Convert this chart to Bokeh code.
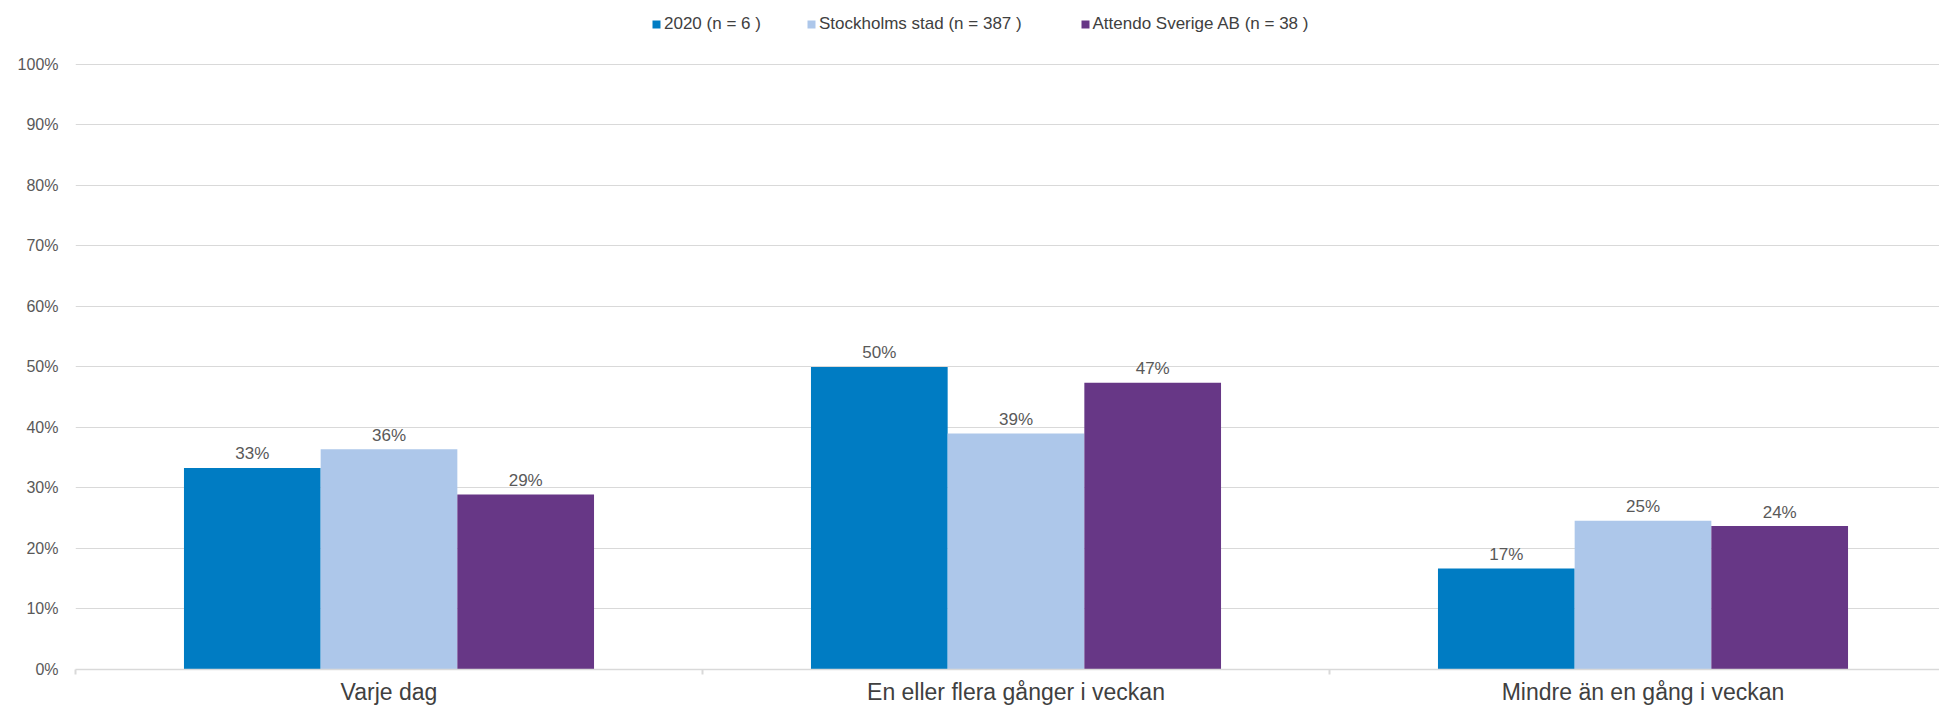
from bokeh.plotting import figure
from bokeh.models import (ColumnDataSource, FixedTicker, Legend, LegendItem, Range1d)
from bokeh.transform import dodge
from bokeh.core.properties import value
from bokeh.embed import file_html
from bokeh.resources import INLINE

categories = ["Varje dag", "En eller flera gånger i veckan", "Mindre än en gång i veckan"]
series_names = ["2020 (n = 6 )", "Stockholms stad (n = 387 )", "Attendo Sverige AB (n = 38 )"]
vals_2020 = [33.3, 50.0, 16.7]
vals_stockholm = [36.4, 39.0, 24.6]
vals_attendo = [28.9, 47.4, 23.7]
colors = ["#007CC3", "#ADC7EA", "#673786"]
y_ticks = [0, 10, 20, 30, 40, 50, 60, 70, 80, 90, 100]

FONT = "Liberation Sans"

# frame spans the full height above the x axis; the y range is extended above 100 %
# so that the 100 % line sits where the reference has it and the legend fits inside.
p = figure(width=1939, height=707, output_backend="svg", toolbar_location=None,
           x_range=Range1d(0, 1864 / 627), y_range=Range1d(0, 110.55),
           min_border_left=75, min_border_right=0, min_border_top=0, min_border_bottom=37)
p.outline_line_color = None
p.background_fill_color = "white"
p.border_fill_color = "white"

xc = [i + 0.5 for i in range(len(categories))]
series = [vals_2020, vals_stockholm, vals_attendo]
offsets = [-0.218, 0.0, 0.218]

renderers = []
for vals, col, off in zip(series, colors, offsets):
    src = ColumnDataSource(dict(x=xc, y=vals, lab=[f"{v:.0f}%" for v in vals]))
    r = p.vbar(x=dodge("x", off, range=p.x_range), top="y", width=0.218, bottom=0,
               source=src, fill_color=col, line_color=None)
    renderers.append(r)
    p.text(x=dodge("x", off, range=p.x_range), y="y", text="lab", source=src,
           text_align="center", text_baseline="alphabetic", y_offset=-14,
           text_font=value(FONT), text_font_size="17px", text_color="#595959")

# x axis
xa = p.xaxis[0]
xa.ticker = FixedTicker(ticks=xc, minor_ticks=[0, 1, 2, 3])
xa.major_label_overrides = {x: c for x, c in zip(xc, categories)}
xa.major_tick_line_color = None
xa.major_tick_out = 0
xa.major_tick_in = 0
xa.minor_tick_line_color = "#D9D9D9"
xa.minor_tick_line_width = 2
xa.minor_tick_out = 5
xa.minor_tick_in = 0
xa.axis_line_color = "#D9D9D9"
xa.axis_line_width = 1.5
xa.major_label_standoff = 4
xa.major_label_text_font = FONT
xa.major_label_text_font_size = "23px"
xa.major_label_text_color = "#404040"
p.xgrid.grid_line_color = None

# y axis
ya = p.yaxis[0]
ya.ticker = FixedTicker(ticks=y_ticks)
ya.major_label_overrides = {t: f"{t}%" for t in y_ticks}
ya.axis_line_color = None
ya.major_tick_line_color = None
ya.minor_tick_line_color = None
ya.major_tick_out = 0
ya.major_tick_in = 0
ya.major_label_standoff = 17
ya.major_label_text_font = FONT
ya.major_label_text_font_size = "16px"
ya.major_label_text_color = "#595959"
p.ygrid.grid_line_color = "#D9D9D9"
p.ygrid.grid_line_width = 1

# legends (one per item, positioned individually)
leg_x = [576, 731, 1004.5]
for r, name, lx in zip(renderers, series_names, leg_x):
    lg = Legend(items=[LegendItem(label=name, renderers=[r])],
                location=(lx, 635), orientation="horizontal",
                glyph_width=10, glyph_height=10, label_height=10, label_standoff=3,
                padding=0, margin=0, spacing=0, border_line_color=None,
                background_fill_alpha=0,
                label_text_font=FONT, label_text_font_size="17px",
                label_text_color="#404040")
    p.add_layout(lg, "center")

open("out.html", "w").write(file_html(p, INLINE))
